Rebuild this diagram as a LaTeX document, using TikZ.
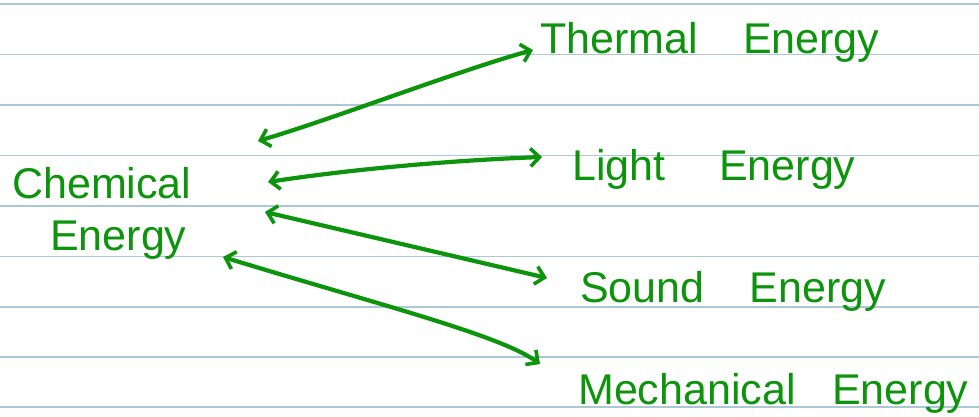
\documentclass[tikz,border=0pt]{standalone}
\usepackage{fontspec}
\setmainfont{Liberation Sans}
\usetikzlibrary{arrows.meta}
\definecolor{ink}{RGB}{12,148,12}
\definecolor{rule}{RGB}{172,200,214}
\tikzset{
  ruled/.style={draw=rule, line width=1.7pt},
  label/.style={text=ink, font=\fontsize{43}{50}\selectfont, inner sep=0pt, anchor=base west},
  link/.style={draw=ink, line width=4.2pt, line cap=round, {Straight Barb[length=9pt,width=18pt,line width=3.6pt]}-{Straight Barb[length=9pt,width=18pt,line width=3.6pt]}}
}
\begin{document}
\begin{tikzpicture}[x=1pt,y=-1pt]
\fill[white] (0,0) rectangle (979,416);
\useasboundingbox (0,0) rectangle (979,416);
\foreach \yy in {4,54.5,105,155.5,206,256.5,307,357,407}
  \draw[ruled] (0,\yy) -- (979,\yy);
\node[label] (chem) at (12,198) {Chemical};
\node[label] (chemb) at (50,250) {Energy};
\node[label] (thermal) at (540,53) {Thermal\hspace{1.05em}Energy};
\node[label] (light) at (572,180) {Light\hspace{1.25em}Energy};
\node[label] (sound) at (580,302) {Sound\hspace{1.05em}Energy};
\node[label] (mech) at (578,404) {Mechanical\hspace{0.85em}Energy};
\draw[link] ([shift={(246,-57)}]chem.base west) .. controls (330,120) and (460,70) .. ([shift={(-7,-3)}]thermal.base west);
\draw[link] ([shift={(256,-16)}]chem.base west) .. controls (360,168) and (460,160) .. ([shift={(-30,-23)}]light.base west);
\draw[link] ([shift={(253,14)}]chem.base west) -- ([shift={(-33,-24)}]sound.base west);
\draw[link] ([shift={(173,7)}]chemb.base west) .. controls (380,305) and (500,335) .. ([shift={(-38,-40)}]mech.base west);
\end{tikzpicture}
\end{document}
